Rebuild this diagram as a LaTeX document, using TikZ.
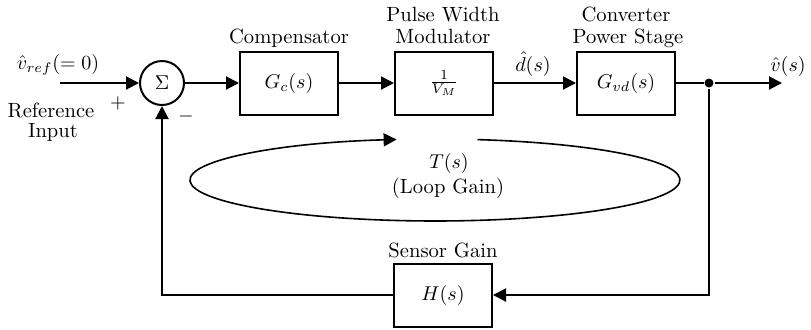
\documentclass[tikz,border=0pt]{standalone}
\usetikzlibrary{arrows.meta}
\begin{document}
\begin{tikzpicture}[x=0.5pt,y=-0.5pt, line width=1pt,
  >={Triangle[length=6.5pt,width=6.5pt]},
  every node/.style={font=\fontsize{10.3}{11}\selectfont},
  blk/.style={draw, line width=1pt, minimum width=49pt, minimum height=31.5pt, inner sep=0pt},
  lbl/.style={anchor=base, inner sep=0pt},
  sumnode/.style={circle, draw, line width=1pt, minimum size=22pt, inner sep=0pt},
  dotnode/.style={circle, fill, inner sep=0pt, minimum size=4.5pt},
  loop/.style={line width=0.8pt}]
\useasboundingbox (0,0) rectangle (811,329);

% blocks
\node[sumnode] (sum) at (162,83) {$\Sigma$};
\node[blk] (gc) at (289,83) {$G_c(s)$};
\node[blk] (pwm) at (444,83) {$\frac{1}{V_M}$};
\node[blk] (gvd) at (626,83) {$G_{vd}(s)$};
\node[blk] (h) at (443,295) {$H(s)$};
\node[dotnode] (dot) at (709,83) {};

\coordinate (in) at (60,83);
\coordinate (out) at (782,83);
\coordinate (br) at (709,295);
\coordinate (bl) at (162,295);
\coordinate (ls) at (477.5,139.6);

% connectors
\draw[->] (in) -- (sum);
\draw[->] (sum) -- (gc);
\draw[->] (gc) -- (pwm);
\draw[->] (pwm) -- (gvd);
\draw (gvd) -- (dot);
\draw[->] (dot) -- (out);
\draw[->] (dot) -- (br) -- (h);
\draw[->] (h) -- (bl) -- (sum);

% loop gain arc
\draw[->, loop] (ls) arc[start angle=80, end angle=-261, x radius=122.5pt, y radius=20.5pt];

% labels
\node[lbl] (vref) at (58,69) {$\hat{v}_{ref}(=0)$};
\node[lbl] (ref1) at (51,117) {Reference};
\node[lbl] (ref2) at (53,137) {Input};
\node (plus) at (118,103) {$+$};
\node (minus) at (186,116) {$-$};
\node[lbl] (lgc) at (289,43) {Compensator};
\node[lbl] (lpwm1) at (443,21) {Pulse Width};
\node[lbl] (lpwm2) at (443,43) {Modulator};
\node[lbl] (lgvd1) at (626,21) {Converter};
\node[lbl] (lgvd2) at (628,43) {Power Stage};
\node[lbl] (dhat) at (533,71) {$\hat{d}(s)$};
\node[lbl] (vhat) at (788,71) {$\hat{v}(s)$};
\node[lbl] (ts) at (449,168) {$T(s)$};
\node[lbl] (lg) at (448,193) {(Loop Gain)};
\node[lbl] (lh) at (443,257) {Sensor Gain};
\end{tikzpicture}
\end{document}
